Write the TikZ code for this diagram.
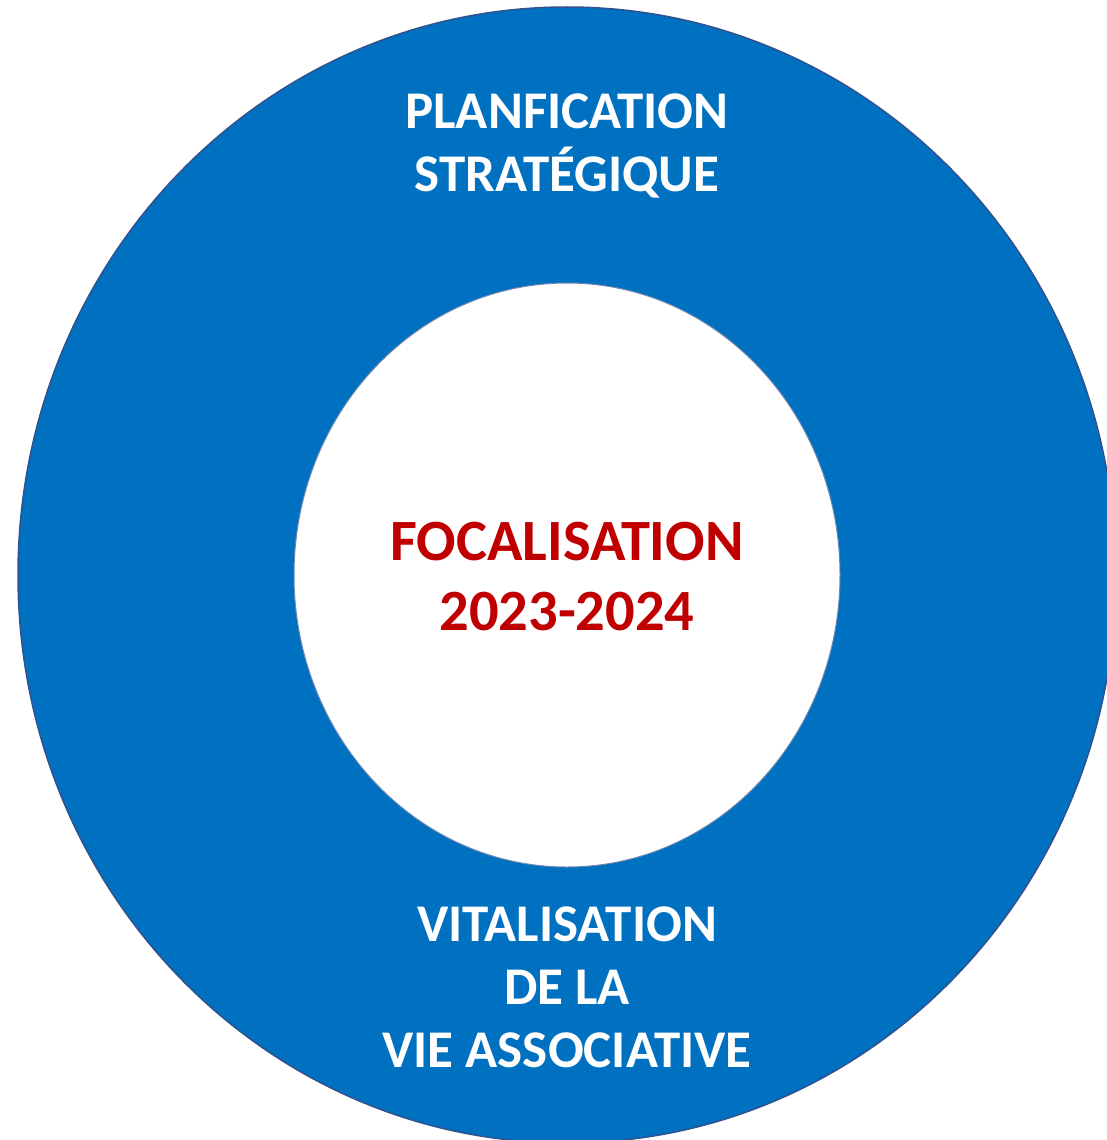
\documentclass[tikz,border=0pt]{standalone}
\usepackage{fontspec}
\setmainfont{Carlito}
\usepackage{tikz}
\usetikzlibrary{positioning}
\definecolor{ringblue}{HTML}{0070C0}
\definecolor{ringline}{HTML}{2F528F}
\definecolor{focusred}{HTML}{C00000}

\begin{document}
\begin{tikzpicture}[x=1pt,y=-1pt,
    ringtext/.style={text=white,align=center,inner sep=0pt,
      font=\fontsize{53}{63}\selectfont\bfseries},
    focustext/.style={text=focusred,align=center,inner sep=0pt,
      font=\fontsize{58.5}{70}\selectfont\bfseries}]
   \useasboundingbox (0,0) rectangle (1107,1140);
   \fill[ringblue,draw=ringline,line width=1.5pt] (567,575) ellipse [x radius=549,y radius=568];
   \fill[white,draw=ringline!70,line width=1pt] (567,575) ellipse [x radius=273,y radius=292];
   \node[ringtext] (plan) at (567,146) {PLANFICATION\\STRATÉGIQUE};
   \node[focustext] (focus) at (567,577) {FOCALISATION\\2023-2024};
   \node[ringtext] (vie) at (567,987) {VITALISATION\\DE LA\\VIE ASSOCIATIVE};
\end{tikzpicture}
\end{document}
